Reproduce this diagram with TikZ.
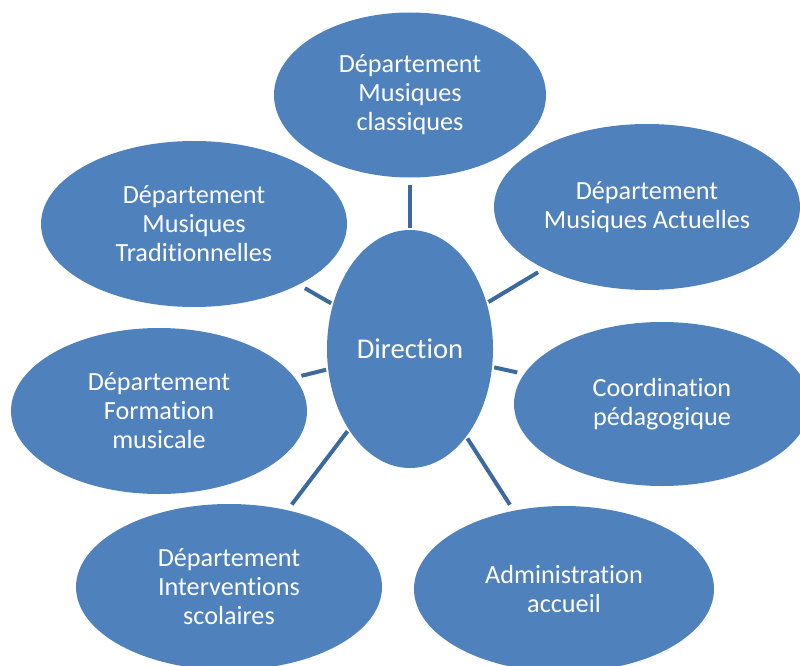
\documentclass[tikz,border=0pt]{standalone}
\usepackage{fontspec}
\setmainfont{Carlito}[Ligatures=NoCommon]
\usetikzlibrary{shapes.geometric}
\definecolor{fillblue}{HTML}{4F81BD}
\definecolor{lineblue}{HTML}{3C6A9F}
\begin{document}
\begin{tikzpicture}[x=1pt,y=-1pt,
  bub/.style={ellipse, fill=fillblue, text=white, inner sep=0pt, align=center,
    font=\fontsize{26.2}{29}\selectfont},
  link/.style={draw=lineblue, line width=4pt, shorten <=2pt, shorten >=7pt}]
\useasboundingbox (0,0) rectangle (800,666);
\node[bub, minimum width=272, minimum height=165] (cla) at (410,95) {Département\\Musiques\\classiques};
\node[bub, minimum width=306, minimum height=166] (act) at (647,207) {Département\\Musiques Actuelles};
\node[bub, minimum width=306, minimum height=166] (tra) at (194,224) {Département\\Musiques\\Traditionnelles};
\node[bub, minimum width=166, minimum height=238, font=\fontsize{28.6}{32}\selectfont] (dir) at (410,349) {Direction};
\node[bub, minimum width=296, minimum height=164] (coo) at (662,404) {Coordination\\pédagogique};
\node[bub, minimum width=296, minimum height=166] (for) at (159,411) {Département\\Formation\\musicale};
\node[bub, minimum width=306, minimum height=166] (int) at (229,587) {Département\\Interventions\\scolaires};
\node[bub, minimum width=300, minimum height=166] (adm) at (564,589) {Administration\\accueil};
\draw[link] (dir) -- (cla);
\draw[link] (dir) -- (act);
\draw[link] (dir) -- (tra);
\draw[link] (dir) -- (coo);
\draw[link] (dir) -- (for);
\draw[link] (dir) -- (int);
\draw[link] (dir) -- (adm);
\end{tikzpicture}
\end{document}
